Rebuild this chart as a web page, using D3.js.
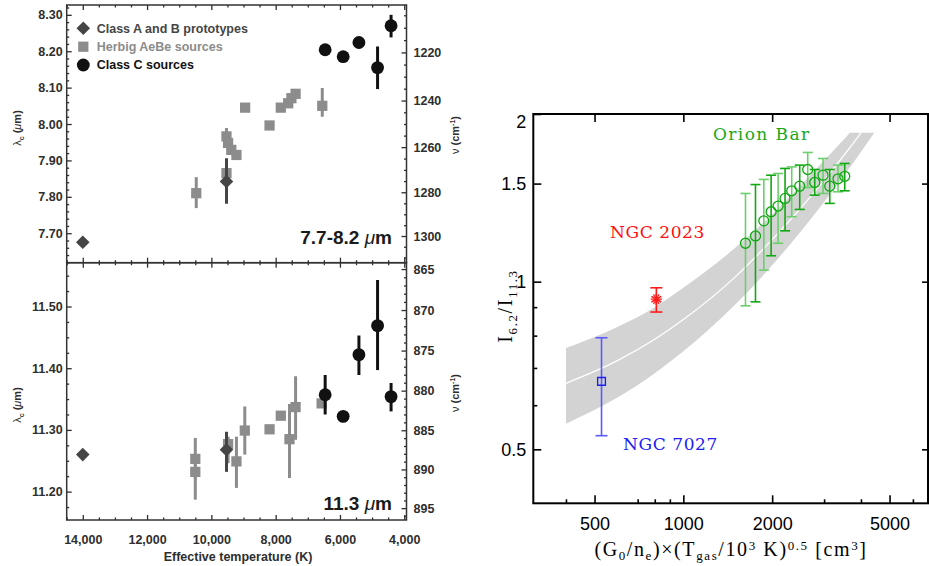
<!DOCTYPE html>
<html>
<head>
<meta charset="utf-8">
<script src="https://cdn.jsdelivr.net/npm/d3@7"></script>
<style>
body{margin:0;background:#fff;}
svg text{font-family:"Liberation Sans",Arial,sans-serif;}
</style>
</head>
<body>
<script>
var width = 929, height = 566;

// ---- left figure: band centre vs effective temperature (K)
// class A and B prototypes (diamonds)
var abTemp = [14000, 9530];
var ab77 = [7.675, 7.842];
var ab77Lo = [null, 7.781];
var ab77Hi = [null, 7.906];
var ab113 = [11.260, 11.268];
var ab113Lo = [null, 11.232];
var ab113Hi = [null, 11.297];

// Herbig AeBe sources (squares)
var heTemp77 = [10470, 9530, 9480, 9380, 9220, 9530, 8950, 8190, 7840, 7610, 7510, 7380, 6550];
var he77 = [7.810, 7.966, 7.948, 7.929, 7.915, 7.865, 8.045, 7.996, 8.045, 8.057, 8.071, 8.083, 8.050];
var he77Lo = [7.769, 7.950, null, null, null, null, null, null, null, null, null, null, 8.020];
var he77Hi = [7.854, 7.989, null, null, null, null, null, null, null, null, null, null, 8.099];
var heTemp113 = [10500, 10500, 9480, 9220, 8960, 8190, 7840, 7570, 7380, 6570];
var he113 = [11.253, 11.232, 11.277, 11.249, 11.299, 11.301, 11.323, 11.285, 11.337, 11.343];
var he113Lo = [11.220, 11.187, 11.246, 11.206, 11.260, null, null, 11.222, 11.284, null];
var he113Hi = [11.287, 11.260, 11.289, 11.289, 11.338, null, null, 11.342, 11.387, null];

// class C sources (circles)
var cTemp = [6460, 5900, 5410, 4830, 4410];
var c77 = [8.204, 8.185, 8.224, 8.155, 8.270];
var c77Lo = [null, null, null, 8.096, 8.238];
var c77Hi = [null, null, null, 8.213, 8.300];
var c113 = [11.357, 11.322, 11.422, 11.469, 11.354];
var c113Lo = [11.325, null, 11.389, 11.397, 11.330];
var c113Hi = [11.389, null, 11.453, 11.543, 11.376];

var tempTicks = [14000, 12000, 10000, 8000, 6000, 4000];
var lam77Ticks = [7.70, 7.80, 7.90, 8.00, 8.10, 8.20, 8.30];
var nu77Ticks = [1220, 1240, 1260, 1280, 1300];
var lam113Ticks = [11.20, 11.30, 11.40, 11.50];
var nu113Ticks = [865, 870, 875, 880, 885, 890, 895];

// ---- right figure: I6.2/I11.3 vs ionisation parameter
var orionX = [1624, 1756, 1874, 1984, 2095, 2212, 2330, 2480, 2640, 2788, 2975, 3135, 3344, 3524];
var orionY = [1.172, 1.208, 1.286, 1.335, 1.367, 1.411, 1.456, 1.484, 1.590, 1.507, 1.553, 1.484, 1.530, 1.546];
var orionLo = [0.905, 0.920, 1.049, 1.113, 1.172, 1.234, 1.308, 1.348, 1.476, 1.430, 1.440, 1.382, 1.450, 1.456];
var orionHi = [1.440, 1.494, 1.526, 1.553, 1.564, 1.597, 1.607, 1.619, 1.706, 1.590, 1.664, 1.590, 1.619, 1.630];
var ngc2023 = {x: 810, y: 0.930, lo: 0.882, hi: 0.975};
var ngc7027 = {x: 528, y: 0.662, lo: 0.529, hi: 0.793};
var bandX = [400, 600, 800, 1000, 1500, 2000, 2500, 3000, 3500, 4000, 4500];
var bandMid = [0.657, 0.722, 0.788, 0.855, 1.020, 1.190, 1.355, 1.520, 1.685, 1.850, 2.020];
var bandHi = [0.760, 0.830, 0.900, 0.975, 1.150, 1.320, 1.490, 1.650, 1.800, 1.950, 2.100];
var bandLo = [0.556, 0.620, 0.685, 0.750, 0.910, 1.070, 1.230, 1.390, 1.550, 1.710, 1.870];
var gTicks = [500, 1000, 2000, 5000];
var gMinor = [400, 700, 800, 900, 3000, 4000, 6000];
var ratioTicks = [0.5, 1, 1.5, 2];
var ratioMinor = [0.6, 0.7, 0.8, 0.9];

var svg = d3.select("body").append("svg")
	.attr("width", width)
	.attr("height", height);

//scales of the left figure
var xT = d3.scaleLinear().domain([14500, 3930]).range([66.7, 406.5]);
var y77 = d3.scaleLinear().domain([7.619, 8.327]).range([262.7, 5]);
var y113 = d3.scaleLinear().domain([11.154, 11.571]).range([520, 262.7]);

function zip(t, v, lo, hi){
	return t.map(function(d, i){ return {t: d, v: v[i], lo: lo[i], hi: hi[i]}; });
}

function addAxis(axis, tx, ty, style){
	var g = svg.append("g")
		.attr("transform", "translate(" + tx + "," + ty + ")")
		.call(axis);
	g.select(".domain").remove();
	g.selectAll("line").attr("stroke", style.color).attr("stroke-width", style.w);
	g.selectAll("text")
		.attr("fill", style.color)
		.style("font-family", style.font)
		.style("font-size", style.size + "px")
		.style("font-weight", style.weight);
	return g;
}

var leftStyle = {color: "#2e2e2e", w: 1.3, font: "Liberation Sans", size: 12.5, weight: "bold"};
var noLab = function(){ return ""; };

function tempMinor(){
	return d3.range(4000, 14501, 500).filter(function(d){ return d % 2000 != 0; });
}

function drawLeftPanel(yScale, yTop, yBottom, lamTicks, lamMinor, nuTicks, nuMinor, labelBottom){
	//temperature ticks on both horizontal edges
	addAxis(d3.axisBottom(xT).tickValues(tempTicks).tickSizeInner(-5).tickSizeOuter(0)
		.tickPadding(15).tickFormat(labelBottom ? d3.format(",") : noLab), 0, yBottom, leftStyle);
	addAxis(d3.axisBottom(xT).tickValues(tempMinor()).tickSizeInner(-2.5).tickSizeOuter(0)
		.tickFormat(noLab), 0, yBottom, leftStyle);
	addAxis(d3.axisTop(xT).tickValues(tempTicks).tickSizeInner(-5).tickSizeOuter(0)
		.tickFormat(noLab), 0, yTop, leftStyle);
	addAxis(d3.axisTop(xT).tickValues(tempMinor()).tickSizeInner(-2.5).tickSizeOuter(0)
		.tickFormat(noLab), 0, yTop, leftStyle);
	//wavelength
	addAxis(d3.axisLeft(yScale).tickValues(lamTicks).tickSizeInner(-5).tickSizeOuter(0)
		.tickPadding(4).tickFormat(d3.format(".2f")), 66.7, 0, leftStyle);
	addAxis(d3.axisLeft(yScale).tickValues(lamMinor).tickSizeInner(-2.5).tickSizeOuter(0)
		.tickFormat(noLab), 66.7, 0, leftStyle);
	//wavenumber = 1e4 / wavelength
	addAxis(d3.axisRight(yScale).tickValues(nuTicks.map(function(n){ return 1e4 / n; }))
		.tickSizeInner(-5).tickSizeOuter(0).tickPadding(7)
		.tickFormat(function(l){ return Math.round(1e4 / l); }), 406.5, 0, leftStyle);
	addAxis(d3.axisRight(yScale).tickValues(nuMinor.map(function(n){ return 1e4 / n; }))
		.tickSizeInner(-2.5).tickSizeOuter(0).tickFormat(noLab), 406.5, 0, leftStyle);
	svg.append("rect")
		.attr("x", 66.7).attr("y", yTop)
		.attr("width", 406.5 - 66.7).attr("height", yBottom - yTop)
		.attr("fill", "none").attr("stroke", "#333").attr("stroke-width", 1.5);
}

var lam77Minor = d3.range(7.62, 8.33, 0.02).filter(function(d){ return Math.abs(d * 10 - Math.round(d * 10)) > 0.01; });
var lam113Minor = d3.range(11.175, 11.56, 0.025).filter(function(d){ return Math.abs(d * 10 - Math.round(d * 10)) > 0.01; });
var nu77Minor = d3.range(1205, 1311, 5).filter(function(d){ return d % 20 != 0; });
var nu113Minor = d3.range(865, 897, 1).filter(function(d){ return d % 5 != 0; });

drawLeftPanel(y77, 5, 262.7, lam77Ticks, lam77Minor, nu77Ticks, nu77Minor, false);
drawLeftPanel(y113, 262.7, 520, lam113Ticks, lam113Minor, nu113Ticks, nu113Minor, true);

var kinds = {
	ab: {color: "#454545", type: d3.symbolSquare, size: 92, rot: 45},
	he: {color: "#8c8c8c", type: d3.symbolSquare, size: 105, rot: 0},
	c: {color: "#111", type: d3.symbolCircle, size: 130, rot: 0}
};

function drawSeries(yScale, data, kind){
	var k = kinds[kind];
	svg.append("g").selectAll("line")
		.data(data.filter(function(d){ return d.lo != null; }))
		.enter().append("line")
		.attr("x1", function(d){ return xT(d.t); })
		.attr("x2", function(d){ return xT(d.t); })
		.attr("y1", function(d){ return yScale(d.lo); })
		.attr("y2", function(d){ return yScale(d.hi); })
		.attr("stroke", k.color)
		.attr("stroke-width", 3);
	svg.append("g").selectAll("path")
		.data(data)
		.enter().append("path")
		.attr("d", d3.symbol().type(k.type).size(k.size))
		.attr("transform", function(d){ return "translate(" + xT(d.t) + "," + yScale(d.v) + ") rotate(" + k.rot + ")"; })
		.attr("fill", k.color);
}

drawSeries(y77, zip(heTemp77, he77, he77Lo, he77Hi), "he");
drawSeries(y77, zip(abTemp, ab77, ab77Lo, ab77Hi), "ab");
drawSeries(y77, zip(cTemp, c77, c77Lo, c77Hi), "c");
drawSeries(y113, zip(heTemp113, he113, he113Lo, he113Hi), "he");
drawSeries(y113, zip(abTemp, ab113, ab113Lo, ab113Hi), "ab");
drawSeries(y113, zip(cTemp, c113, c113Lo, c113Hi), "c");

//legend
var legend = [
	{kind: "ab", text: "Class A and B prototypes", y: 28.3, tc: "#454545"},
	{kind: "he", text: "Herbig AeBe sources", y: 46.7, tc: "#8c8c8c"},
	{kind: "c", text: "Class C sources", y: 65, tc: "#111"}
];
var lg = svg.append("g").selectAll("g").data(legend).enter().append("g")
	.attr("transform", function(d){ return "translate(83.3," + d.y + ")"; });
lg.append("path")
	.attr("d", function(d){ return d3.symbol().type(kinds[d.kind].type).size(kinds[d.kind].size)(); })
	.attr("transform", function(d){ return "rotate(" + kinds[d.kind].rot + ")"; })
	.attr("fill", function(d){ return kinds[d.kind].color; });
lg.append("text")
	.attr("x", 13.4).attr("dy", "0.35em")
	.style("font-size", "12.5px").style("font-weight", "bold")
	.attr("fill", function(d){ return d.tc; })
	.text(function(d){ return d.text; });

//panel names
function bandName(num, x, y){
	var t = svg.append("text").attr("x", x).attr("y", y).attr("text-anchor", "end")
		.style("font-size", "19px").style("font-weight", "bold").attr("fill", "#1a1a1a");
	t.append("tspan").text(num + " ");
	t.append("tspan").style("font-style", "italic").style("font-weight", "normal").text("\u03bc");
	t.append("tspan").text("m");
}
bandName("7.7-8.2", 392, 243.5);
bandName("11.3", 392, 510);

function lamTitle(cy){
	var t = svg.append("text").attr("transform", "translate(21," + cy + ") rotate(-90)")
		.attr("text-anchor", "middle").style("font-size", "11px").style("font-weight", "bold").attr("fill", "#2e2e2e");
	t.append("tspan").style("font-weight", "normal").text("\u03bb");
	t.append("tspan").attr("dy", 3).style("font-size", "7px").text("c");
	t.append("tspan").attr("dy", -3).text(" (");
	t.append("tspan").style("font-style", "italic").style("font-weight", "normal").text("\u03bc");
	t.append("tspan").text("m)");
}
function nuTitle(cy){
	var t = svg.append("text").attr("transform", "translate(459," + cy + ") rotate(-90)")
		.attr("text-anchor", "middle").style("font-size", "11px").style("font-weight", "bold").attr("fill", "#2e2e2e");
	t.append("tspan").style("font-weight", "normal").text("\u03bd");
	t.append("tspan").text(" (cm");
	t.append("tspan").attr("dy", -4).style("font-size", "7px").text("-1");
	t.append("tspan").attr("dy", 4).text(")");
}
lamTitle(128);
lamTitle(405);
nuTitle(135);
nuTitle(393);

svg.append("text").attr("x", 238).attr("y", 561).attr("text-anchor", "middle")
	.style("font-size", "12.5px").style("font-weight", "bold").attr("fill", "#2e2e2e")
	.text("Effective temperature (K)");

// ---------------- right figure
var xG = d3.scaleLog().domain([310, 6750]).range([533.3, 928]);
var yR = d3.scaleLog().domain([0.4, 2]).range([503.3, 114]);

svg.append("clipPath").attr("id", "bandclip").append("rect")
	.attr("x", 533.3).attr("y", yR(1.85))
	.attr("width", 928 - 533.3).attr("height", 503.3 - yR(1.85));

var band = bandX.map(function(x, i){ return {x: x, mid: bandMid[i], hi: bandHi[i], lo: bandLo[i]}; });
var bandG = svg.append("g").attr("clip-path", "url(#bandclip)");
bandG.append("path").datum(band)
	.attr("d", d3.area().x(function(d){ return xG(d.x); })
		.y0(function(d){ return yR(d.lo); }).y1(function(d){ return yR(d.hi); })
		.curve(d3.curveMonotoneX))
	.attr("fill", "#d3d3d3");
bandG.append("path").datum(band)
	.attr("d", d3.line().x(function(d){ return xG(d.x); }).y(function(d){ return yR(d.mid); })
		.curve(d3.curveMonotoneX))
	.attr("fill", "none").attr("stroke", "#fff").attr("stroke-width", 1.3);

var rightStyle = {color: "#000", w: 1.6, font: "Liberation Sans", size: 18, weight: "normal"};
addAxis(d3.axisBottom(xG).tickValues(gTicks).tickSizeInner(-8).tickSizeOuter(0)
	.tickPadding(14).tickFormat(d3.format("d")), 0, 503.3, rightStyle);
addAxis(d3.axisBottom(xG).tickValues(gMinor).tickSizeInner(-4).tickSizeOuter(0)
	.tickFormat(noLab), 0, 503.3, rightStyle);
addAxis(d3.axisTop(xG).tickValues(gTicks).tickSizeInner(-8).tickSizeOuter(0)
	.tickFormat(noLab), 0, 114, rightStyle);
var yAx = addAxis(d3.axisLeft(yR).tickValues(ratioTicks).tickSizeInner(-8).tickSizeOuter(0)
	.tickPadding(7).tickFormat(function(d){ return String(d); }), 533.3, 0, rightStyle);
yAx.selectAll(".tick text").filter(function(d){ return d === 2; }).attr("dy", "0.77em");
addAxis(d3.axisLeft(yR).tickValues(ratioMinor).tickSizeInner(-4).tickSizeOuter(0)
	.tickFormat(noLab), 533.3, 0, rightStyle);
addAxis(d3.axisRight(yR).tickValues([0.5, 1, 1.5]).tickSizeInner(-6).tickSizeOuter(0)
	.tickFormat(noLab), 928, 0, rightStyle);

svg.append("rect")
	.attr("x", 533.3).attr("y", 114)
	.attr("width", 928 - 533.3).attr("height", 503.3 - 114)
	.attr("fill", "none").attr("stroke", "#000").attr("stroke-width", 2);

function errBar(g, d, color, cap, w){
	var x = xG(d.x);
	g.append("line").attr("x1", x).attr("x2", x).attr("y1", yR(d.lo)).attr("y2", yR(d.hi))
		.attr("stroke", color).attr("stroke-width", w);
	[d.lo, d.hi].forEach(function(v){
		g.append("line").attr("x1", x - cap).attr("x2", x + cap).attr("y1", yR(v)).attr("y2", yR(v))
			.attr("stroke", color).attr("stroke-width", w);
	});
}

//Orion Bar
var orion = orionX.map(function(x, i){ return {x: x, y: orionY[i], lo: orionLo[i], hi: orionHi[i]}; });
var og = svg.append("g");
orion.forEach(function(d, i){
	errBar(og, d, i % 2 == 0 ? "#6ccf6c" : "#12a812", 5, 1.6);
});
og.selectAll("circle").data(orion).enter().append("circle")
	.attr("cx", function(d){ return xG(d.x); })
	.attr("cy", function(d){ return yR(d.y); })
	.attr("r", 5)
	.attr("fill", "none").attr("stroke", "#10a810").attr("stroke-width", 1.3);

//NGC 2023
var rg = svg.append("g");
errBar(rg, ngc2023, "#ff1a1a", 6, 1.6);
rg.append("path")
	.attr("d", d3.symbol().type(d3.symbolAsterisk).size(90))
	.attr("transform", "translate(" + xG(ngc2023.x) + "," + yR(ngc2023.y) + ")")
	.attr("fill", "none").attr("stroke", "#ff1a1a").attr("stroke-width", 1.6);
rg.append("path")
	.attr("d", d3.symbol().type(d3.symbolAsterisk).size(90))
	.attr("transform", "translate(" + xG(ngc2023.x) + "," + yR(ngc2023.y) + ") rotate(90)")
	.attr("fill", "none").attr("stroke", "#ff1a1a").attr("stroke-width", 1.2);

//NGC 7027
var bg = svg.append("g");
errBar(bg, ngc7027, "#5a5aff", 6, 1.6);
bg.append("path")
	.attr("d", d3.symbol().type(d3.symbolSquare).size(60))
	.attr("transform", "translate(" + xG(ngc7027.x) + "," + yR(ngc7027.y) + ")")
	.attr("fill", "none").attr("stroke", "#2020ee").attr("stroke-width", 1.4);

//object names
var names = [
	{t: "Orion Bar", x: 713, y: 139.5, c: "#1aa81a", ls: 1.4},
	{t: "NGC 2023", x: 610, y: 238, c: "#ff1010", ls: 0.6},
	{t: "NGC 7027", x: 623, y: 449.5, c: "#2020ee", ls: 0.6}
];
svg.append("g").selectAll("text").data(names).enter().append("text")
	.attr("x", function(d){ return d.x; })
	.attr("y", function(d){ return d.y; })
	.attr("fill", function(d){ return d.c; })
	.style("letter-spacing", function(d){ return d.ls + "px"; })
	.style("font-family", "'DejaVu Serif', serif")
	.style("font-size", "17px")
	.text(function(d){ return d.t; });

//axis titles with sub- and superscripts
function richText(parts, attrs, spacing){
	var t = svg.append("text")
		.style("font-family", "'Liberation Serif', serif")
		.style("font-size", "20px")
		.style("letter-spacing", spacing + "px")
		.attr("fill", "#000");
	for(var key in attrs){ t.attr(key, attrs[key]); }
	var prev = 0;
	parts.forEach(function(p){
		var s = p[1] || 0;
		t.append("tspan").attr("dy", s - prev)
			.style("font-size", s != 0 ? "13px" : "20px")
			.text(p[0]);
		prev = s;
	});
	return t;
}
richText([["I"], ["6.2", 5], ["/I"], ["11.3", 5]],
	{"text-anchor": "middle", "transform": "translate(512,306) rotate(-90)"}, 1.6);
richText([["(G"], ["0", 4], ["/n"], ["e", 4], [")\u00d7(T"], ["gas", 4], ["/10"], ["3", -6], [" K)"], ["0.5", -6], [" [cm"], ["3", -6], ["]"]],
	{"text-anchor": "middle", "x": 731, "y": 556}, 1.6);
</script>
</body>
</html>
